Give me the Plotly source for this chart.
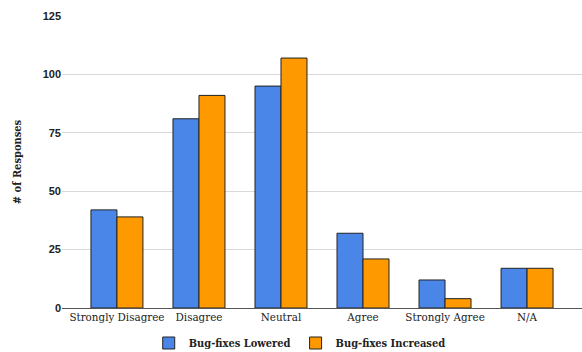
import plotly.graph_objects as go

categories = ["Strongly Disagree", "Disagree", "Neutral", "Agree", "Strongly Agree", "N/A"]
lowered = [42, 81, 95, 32, 12, 17]
increased = [39, 91, 107, 21, 4, 17]
y_ticks = [0, 25, 50, 75, 100, 125]

serif = "DejaVu Serif Condensed, DejaVu Serif, serif"

fig = go.Figure()
fig.add_trace(go.Bar(
    x=categories, y=lowered, name="<b>Bug-fixes Lowered</b>",
    marker=dict(color="#4a86e8", line=dict(color="#222222", width=1)),
))
fig.add_trace(go.Bar(
    x=categories, y=increased, name="<b>Bug-fixes Increased</b>",
    marker=dict(color="#ff9900", line=dict(color="#222222", width=1)),
))

fig.update_layout(
    width=582, height=352,
    margin=dict(l=62, r=0, t=16, b=44, autoexpand=False),
    paper_bgcolor="white", plot_bgcolor="white",
    barmode="group", bargap=0.366, bargroupgap=0,
    showlegend=True,
    legend=dict(orientation="h", xref="container", x=0.515, xanchor="center",
                yref="container", y=9 / 352, yanchor="middle",
                font=dict(family=serif, size=11, color="#222222"),
                itemwidth=30, tracegroupgap=0, bgcolor="rgba(0,0,0,0)"),
    xaxis=dict(range=[-0.67, 5.67], showgrid=False, ticks="",
               tickfont=dict(family=serif, size=11.5, color="#222222"),
               showline=False, automargin=False),
    yaxis=dict(range=[0, 125], tickvals=y_ticks,
               ticktext=[f"<b>{v}</b>" for v in y_ticks],
               tickfont=dict(family="Liberation Sans, Arial, sans-serif", size=11, color="#222222"),
               gridcolor="#d9d9d9", gridwidth=1,
               zeroline=True, zerolinecolor="#555555", zerolinewidth=1,
               ticklen=0, ticks="", automargin=False,
               title=dict(text="<b># of Responses</b>", standoff=18,
                          font=dict(family=serif, size=11, color="#222222"))),
)

fig.write_html("out.html")
